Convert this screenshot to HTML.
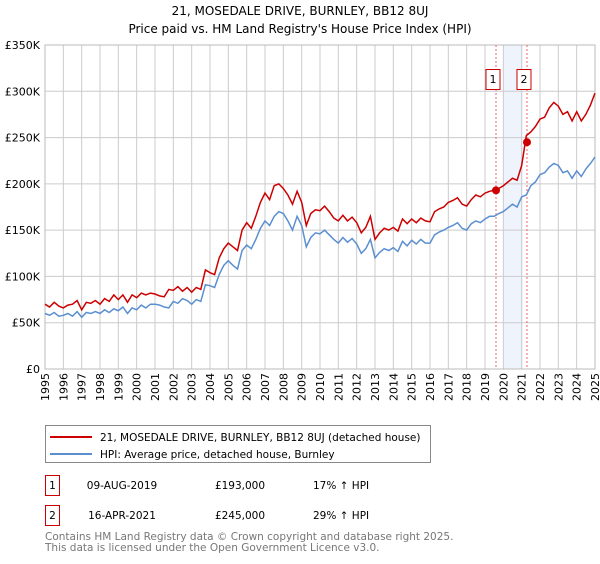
<!DOCTYPE html>
<html><head><meta charset="utf-8"><style>
body{margin:0;background:#fff;font-family:"DejaVu Sans","Liberation Sans",sans-serif;}
svg text{font-family:"DejaVu Sans","Liberation Sans",sans-serif;}
</style></head><body>
<svg id="c" width="600" height="560" xmlns="http://www.w3.org/2000/svg">
<text x="300" y="15" text-anchor="middle" font-size="12">21, MOSEDALE DRIVE, BURNLEY, BB12 8UJ</text>
<text x="300" y="33" text-anchor="middle" font-size="12">Price paid vs. HM Land Registry's House Price Index (HPI)</text>
<g id="grid"></g>
<g id="marks"></g>
<g>
<rect x="45.5" y="425.5" width="385" height="37" fill="#fff" stroke="#888"/>
<line x1="50" y1="437" x2="92" y2="437" stroke="#cc0000" stroke-width="2"/>
<text x="100" y="441" font-size="10.5">21, MOSEDALE DRIVE, BURNLEY, BB12 8UJ (detached house)</text>
<line x1="50" y1="454" x2="92" y2="454" stroke="#5b8fd0" stroke-width="2"/>
<text x="100" y="458" font-size="10.5">HPI: Average price, detached house, Burnley</text>
</g>
<g font-size="10.5">
<rect x="45.5" y="475.5" width="14" height="20" fill="none" stroke="#cc0000"/>
<text x="52.5" y="489" text-anchor="middle">1</text>
<text x="122" y="489" text-anchor="middle">09-AUG-2019</text>
<text x="240" y="489" text-anchor="middle">£193,000</text>
<text x="313" y="489">17% ↑ HPI</text>
<rect x="45.5" y="505.5" width="14" height="20" fill="none" stroke="#cc0000"/>
<text x="52.5" y="519" text-anchor="middle">2</text>
<text x="122" y="519" text-anchor="middle">16-APR-2021</text>
<text x="240" y="519" text-anchor="middle">£245,000</text>
<text x="313" y="519">29% ↑ HPI</text>
</g>
<text x="45" y="540" font-size="10.5" fill="#777">Contains HM Land Registry data © Crown copyright and database right 2025.</text>
<text x="45" y="551" font-size="10.5" fill="#777">This data is licensed under the Open Government Licence v3.0.</text>
</svg>
<script>
const hpiValues=[60,58,61,57,58,60,57,62,56,61,60,62,60,64,61,65,63,67,60,66,64,69,66,70,70,69,67,66,73,71,76,74,70,75,73,91,90,88,102,112,117,112,108,128,134,130,140,152,160,155,165,170,168,160,150,165,155,132,142,147,146,150,145,140,136,142,137,141,135,125,130,140,120,126,130,128,131,127,138,133,139,135,140,136,136,145,148,150,153,155,158,152,150,157,160,158,162,165,165,168,170,174,178,175,186,188,198,202,210,212,218,222,220,212,214,206,214,208,216,222,229];
const priceValues=[70,67,72,68,66,69,70,74,64,72,71,74,70,76,73,80,75,80,72,80,77,82,80,82,81,79,78,86,85,89,84,88,83,88,86,107,104,102,120,130,136,132,128,150,158,152,165,180,190,183,198,200,195,188,178,192,180,155,168,172,171,176,170,163,160,166,160,164,158,147,153,165,140,147,152,150,153,149,162,157,162,158,163,160,159,170,173,175,180,182,185,178,176,183,188,186,190,192,193,195,198,202,206,204,220,252,256,262,270,272,282,288,284,275,278,268,278,268,275,285,298];
const saleDates=[2019.6,2021.29];
const salePrices=[193,245];
const yTicks=[0,50,100,150,200,250,300,350];
const yTickLabels=["£0","£50K","£100K","£150K","£200K","£250K","£300K","£350K"];
const xYears=[1995,1996,1997,1998,1999,2000,2001,2002,2003,2004,2005,2006,2007,2008,2009,2010,2011,2012,2013,2014,2015,2016,2017,2018,2019,2020,2021,2022,2023,2024,2025];
const NS="http://www.w3.org/2000/svg";
const L=45,R=595,T=45,B=369;
const xs=t=>L+(t-1995)/30*(R-L);
const ys=v=>B-v/350*(B-T);
function mk(tag,attrs,parent){const e=document.createElementNS(NS,tag);for(const k in attrs)e.setAttribute(k,attrs[k]);parent.appendChild(e);return e;}
const grid=document.getElementById('grid'),marks=document.getElementById('marks');
const shade=mk('rect',{x:xs(2020),y:T,width:xs(2021.05)-xs(2020),height:B-T,fill:'#eef3fc'},grid);


xYears.forEach(y=>{
 const l=mk('line',{x1:xs(y),x2:xs(y),y1:T,y2:B,stroke:'#ccc','stroke-width':1},grid);
 
 
 const t=mk('text',{transform:`translate(${xs(y)+4},${B+4}) rotate(-90)`,'text-anchor':'end','font-size':11},grid);
 t.textContent=y;
 
 
});
yTicks.forEach((v,i)=>{
 const l=mk('line',{x1:L,x2:R,y1:ys(v),y2:ys(v),stroke:'#ccc','stroke-width':1},grid);
 
 
 const t=mk('text',{x:40,y:ys(v)+4,'text-anchor':'end','font-size':11},grid);
 t.textContent=yTickLabels[i];
 
 
});
const fr=mk('rect',{x:L,y:T,width:R-L,height:B-T,fill:'none',stroke:'#bbb'},grid);


saleDates.forEach((d,i)=>{
 const l=mk('line',{x1:xs(d),x2:xs(d),y1:T,y2:B,stroke:'#e66','stroke-width':1,'stroke-dasharray':'2,2'},marks);
 
 
});
function path(vals,color,name){
 const d=vals.map((v,i)=>(i?'L':'M')+xs(1995+i*0.25).toFixed(1)+','+ys(v).toFixed(1)).join('');
 const p=mk('path',{d:d,fill:'none',stroke:color,'stroke-width':1.5},marks);
 
 
}
path(hpiValues,'#5b8fd0','hpi-line');
path(priceValues,'#cc0000','price-line');
saleDates.forEach((d,i)=>{
 const c=mk('circle',{cx:xs(d),cy:ys(salePrices[i]),r:4,fill:'#cc0000'},marks);
 
 
 const bx=mk('rect',{x:xs(d)-10,y:69.5,width:14,height:20,fill:'#fff',stroke:'#cc0000'},marks);
 
 
 const t=mk('text',{x:xs(d)-3,y:83,'text-anchor':'middle','font-size':11},marks);
 t.textContent=i+1;
 
 
});
</script>
</body></html>
